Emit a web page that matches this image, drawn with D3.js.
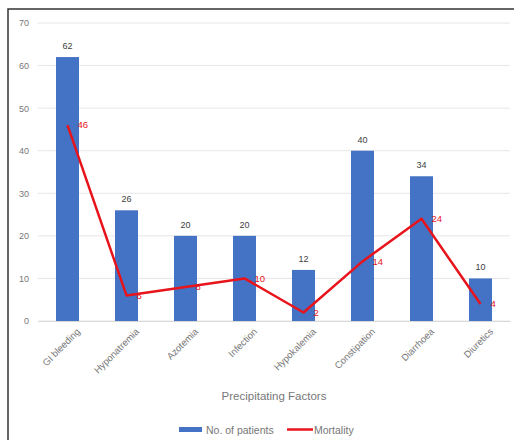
<!DOCTYPE html>
<html><head><meta charset="utf-8">
<script src="https://cdn.jsdelivr.net/npm/d3@7"></script>
<style>body{margin:0;background:#fff}svg{display:block}text{font-family:"Liberation Sans",Arial,sans-serif}</style>
</head><body>
<svg id="c" width="514" height="440"></svg>
<script>
const categories = ["GI bleeding","Hyponatremia","Azotemia","Infection","Hypokalemia","Constipation","Diarrhoea","Diuretics"];
const patients = [62,26,20,20,12,40,34,10];
const mortality = [46,6,8,10,2,14,24,4];
const yTicks = [0,10,20,30,40,50,60,70];

const svg = d3.select("#c");
svg.append("rect").attr("width",514).attr("height",440).attr("fill","#fff");
// frame
svg.append("path").attr("d","M8,440V9H514").attr("fill","none").attr("stroke","#333").attr("stroke-width",1.5);

const x = d3.scaleBand().domain(categories).range([38,510]).paddingInner(0.61).paddingOuter(0.305);
const y = d3.scaleLinear().domain([0,70]).range([321,23]);

// grid
svg.append("g").selectAll("line").data(yTicks).join("line")
  .attr("x1",38).attr("x2",510).attr("y1",d=>y(d)).attr("y2",d=>y(d))
  .attr("stroke","#e6e6e6").attr("stroke-width",1);

// y axis labels
const ya = svg.append("g").attr("transform","translate(38,0)")
  .call(d3.axisLeft(y).tickValues(yTicks).tickSize(0).tickPadding(9));
ya.select(".domain").remove();
ya.selectAll("text").attr("fill","#777").attr("font-size",9);

// bars
svg.append("g").selectAll("rect").data(categories).join("rect")
  .attr("x",d=>x(d)).attr("width",x.bandwidth())
  .attr("y",(d,i)=>y(patients[i])).attr("height",(d,i)=>y(0)-y(patients[i]))
  .attr("fill","#4472c4");

// bar labels
svg.append("g").selectAll("text").data(categories).join("text")
  .attr("x",d=>x(d)+x.bandwidth()/2).attr("y",(d,i)=>y(patients[i])-8)
  .attr("text-anchor","middle").attr("font-size",9).attr("fill","#404040")
  .text((d,i)=>patients[i]);

// x axis labels
const xa = svg.append("g").attr("transform","translate(0,321)")
  .call(d3.axisBottom(x).tickSize(0).tickPadding(6));
xa.select(".domain").attr("stroke","#d9d9d9");
xa.selectAll("text").attr("fill","#777").attr("font-size",9.5)
  .attr("text-anchor","end").attr("dy","0.3em")
  .attr("transform","translate(7,5) rotate(-45)");

// mortality line
const cx = d=>x(d)+x.bandwidth()/2;
svg.append("path").datum(categories)
  .attr("d",d3.line().x(cx).y((d,i)=>y(mortality[i])))
  .attr("fill","none").attr("stroke","#e8141c").attr("stroke-width",2.5).attr("stroke-linejoin","round");

svg.append("g").selectAll("text").data(categories).join("text")
  .attr("x",d=>cx(d)+10).attr("y",(d,i)=>y(mortality[i])).attr("dy","0.35em")
  .attr("font-size",9.5).attr("fill","#e8141c")
  .text((d,i)=>mortality[i]);

// axis title
svg.append("text").attr("x",274).attr("y",400).attr("text-anchor","middle")
  .attr("font-size",11.5).attr("fill","#777").text("Precipitating Factors");

// legend
const lg = svg.append("g");
lg.append("rect").attr("x",179).attr("y",427).attr("width",23).attr("height",5).attr("fill","#4472c4");
lg.append("text").attr("x",206).attr("y",433.5).attr("font-size",10.5).attr("fill","#777").text("No. of patients");
lg.append("line").attr("x1",287).attr("x2",313).attr("y1",429.5).attr("y2",429.5).attr("stroke","#e8141c").attr("stroke-width",2.5);
lg.append("text").attr("x",314).attr("y",433.5).attr("font-size",10.5).attr("fill","#777").text("Mortality");
</script>
</body></html>
